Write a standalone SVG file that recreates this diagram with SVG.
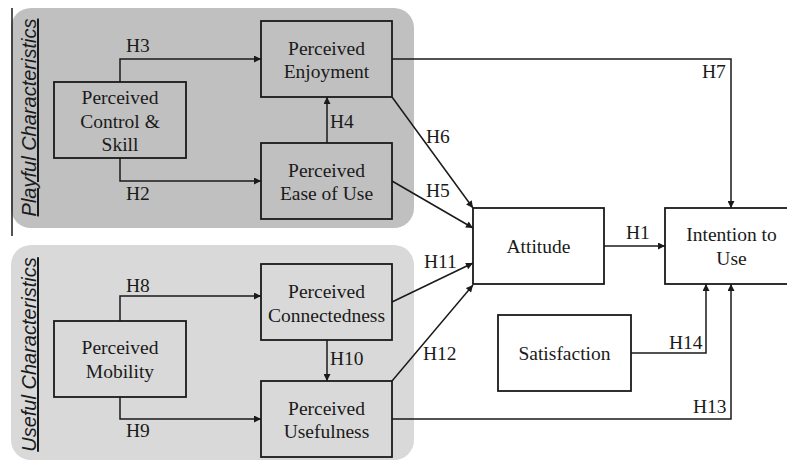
<svg xmlns="http://www.w3.org/2000/svg" width="787" height="462" viewBox="0 0 787 462">
<defs>
<style>
.panel1{fill:#c0c0c0}
.panel2{fill:#d9d9d9}
.box{fill:none;stroke:#1a1a1a;stroke-width:1.8}
.wbox{fill:#ffffff;stroke:#1a1a1a;stroke-width:1.8}
.t{font-family:'Liberation Serif','Times New Roman',serif;font-size:19.5px;fill:#1a1a1a;text-anchor:middle}
.lbl{font-family:'Liberation Serif','Times New Roman',serif;font-size:19.5px;fill:#1a1a1a}
.side{font-family:'Liberation Sans',Arial,sans-serif;font-size:20px;font-style:italic;fill:#1a1a1a;text-anchor:middle;text-decoration:underline}
.c{fill:none;stroke:#1a1a1a;stroke-width:1.5}
</style>
<marker id="ah" viewBox="0 0 10 10" refX="10" refY="5" markerWidth="8" markerHeight="7" markerUnits="userSpaceOnUse" orient="auto">
<path d="M0,0 L10,5 L0,10 z" fill="#1a1a1a"/>
</marker>
</defs>
<rect width="787" height="462" fill="#ffffff"/>
<g id="panel-playful">
<rect class="panel1" x="11" y="8" width="403" height="220" rx="20"/>
<line x1="12" y1="8" x2="12" y2="236" stroke="#1a1a1a" stroke-width="1.5"/>
<text class="side" transform="translate(36,117.5) rotate(-90)">Playful Characteristics</text>
</g>
<g id="panel-useful">
<rect class="panel2" x="11" y="245" width="403" height="215" rx="20"/>
<text class="side" transform="translate(36,354.5) rotate(-90)">Useful Characteristics</text>
</g>
<g id="connectors">
<path class="c" marker-end="url(#ah)" d="M120,82 V59 H261"/>
<path class="c" marker-end="url(#ah)" d="M120,158 V181 H261"/>
<path class="c" marker-end="url(#ah)" d="M327,143 V97"/>
<path class="c" marker-end="url(#ah)" d="M392,97 L473,208"/>
<path class="c" marker-end="url(#ah)" d="M392,181 L473,228"/>
<path class="c" marker-end="url(#ah)" d="M392,59 H731 V208"/>
<path class="c" marker-end="url(#ah)" d="M604,246 H665"/>
<path class="c" marker-end="url(#ah)" d="M120,321 V296 H261"/>
<path class="c" marker-end="url(#ah)" d="M120,397 V419 H261"/>
<path class="c" marker-end="url(#ah)" d="M327,340 V381"/>
<path class="c" marker-end="url(#ah)" d="M392,302 L473,263"/>
<path class="c" marker-end="url(#ah)" d="M392,381 L473,285"/>
<path class="c" marker-end="url(#ah)" d="M392,419 H731 V284"/>
<path class="c" marker-end="url(#ah)" d="M631,353 H706 V284"/>
<text class="lbl" x="126" y="52">H3</text>
<text class="lbl" x="126" y="200">H2</text>
<text class="lbl" x="330" y="128">H4</text>
<text class="lbl" x="426" y="143">H6</text>
<text class="lbl" x="426" y="197">H5</text>
<text class="lbl" x="702" y="78">H7</text>
<text class="lbl" x="626" y="239">H1</text>
<text class="lbl" x="126" y="292">H8</text>
<text class="lbl" x="126" y="437">H9</text>
<text class="lbl" x="330" y="365">H10</text>
<text class="lbl" x="424" y="268">H11</text>
<text class="lbl" x="423" y="360">H12</text>
<text class="lbl" x="693" y="413">H13</text>
<text class="lbl" x="669" y="349">H14</text>
</g>
<g id="control">
<rect class="box" x="54" y="82" width="132" height="76"/>
<text class="t" x="120" y="104">Perceived</text>
<text class="t" x="120" y="127.5">Control &amp;</text>
<text class="t" x="120" y="151">Skill</text>
</g>
<g id="enjoyment">
<rect class="box" x="261" y="21" width="131" height="76"/>
<text class="t" x="326.5" y="54.5">Perceived</text>
<text class="t" x="326.5" y="77.5">Enjoyment</text>
</g>
<g id="ease">
<rect class="box" x="261" y="143" width="131" height="76"/>
<text class="t" x="326.5" y="176.5">Perceived</text>
<text class="t" x="326.5" y="199.5">Ease of Use</text>
</g>
<g id="mobility">
<rect class="box" x="54" y="321" width="132" height="76"/>
<text class="t" x="120" y="354">Perceived</text>
<text class="t" x="120" y="378">Mobility</text>
</g>
<g id="connectedness">
<rect class="box" x="261" y="264" width="131" height="76"/>
<text class="t" x="326.5" y="298">Perceived</text>
<text class="t" x="326.5" y="321.5">Connectedness</text>
</g>
<g id="usefulness">
<rect class="box" x="261" y="381" width="131" height="76"/>
<text class="t" x="326.5" y="415">Perceived</text>
<text class="t" x="326.5" y="438">Usefulness</text>
</g>
<g id="attitude">
<rect class="wbox" x="473" y="208" width="131" height="76"/>
<text class="t" x="538.5" y="253">Attitude</text>
</g>
<g id="intention">
<rect class="wbox" x="665" y="208" width="132" height="76"/>
<text class="t" x="731.5" y="241">Intention to</text>
<text class="t" x="731.5" y="264.5">Use</text>
</g>
<g id="satisfaction">
<rect class="wbox" x="498" y="315" width="133" height="76"/>
<text class="t" x="564.5" y="360">Satisfaction</text>
</g>
</svg>
